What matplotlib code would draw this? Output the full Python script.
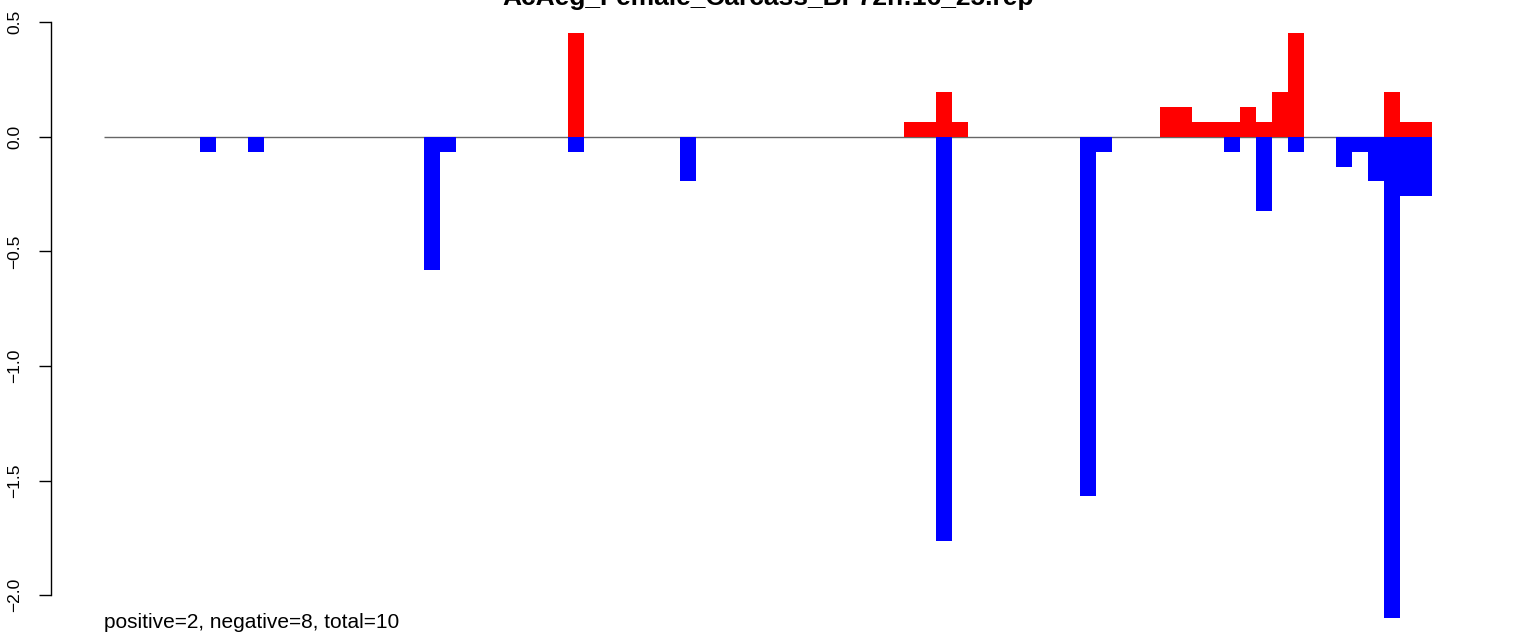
import matplotlib as mpl
mpl.use('Agg')

import matplotlib.pyplot as plt
import numpy as np

plt.rcParams['font.family'] = ['Liberation Sans', 'DejaVu Sans']

title = "AcAeg_Female_Carcass_BF72h:16_25.rep"
footer = "positive=2, negative=8, total=10"
n_bins = 83

# positive (red) bins and their heights
pos_idx = [29, 50, 51, 52, 53, 66, 67, 68, 69, 70, 71, 72, 73, 74, 80, 81, 82]
pos_val = [0.454, 0.065, 0.065, 0.194, 0.065, 0.13, 0.13, 0.065, 0.065, 0.065,
           0.13, 0.065, 0.194, 0.454, 0.194, 0.065, 0.065]

# negative (blue) bins and their heights
neg_idx = [6, 9, 20, 21, 29, 36, 52, 61, 62, 70, 72, 74, 77, 78, 79, 80, 81, 82]
neg_val = [-0.065, -0.065, -0.583, -0.065, -0.065, -0.194, -1.763, -1.566, -0.065,
           -0.065, -0.324, -0.065, -0.13, -0.065, -0.194, -2.100, -0.26, -0.26]

yticks = [0.5, 0.0, -0.5, -1.0, -1.5, -2.0]
ytick_labels = ["0.5", "0.0", "\u22120.5", "\u22121.0", "\u22121.5", "\u22122.0"]

W, H = 1536, 634
fig = plt.figure(figsize=(W / 100, H / 100), dpi=100)

# plot box in pixels: x 104..1432, y 10..625 ; zero at y=136.7, 229.3 px per unit
left_px, right_px, top_px, bot_px = 104, 1432, 10, 625
zero_px, unit_px = 136.7, 229.3
ax = fig.add_axes([left_px / W, (H - bot_px) / H,
                   (right_px - left_px) / W, (bot_px - top_px) / H])
ax.set_xlim(0, n_bins)
ax.set_ylim((zero_px - bot_px) / unit_px, (zero_px - top_px) / unit_px)

ax.plot([0, n_bins], [0, 0], color='#666666', lw=1.0, zorder=1,
        solid_capstyle='butt')
ax.bar(pos_idx, pos_val, width=1, align='edge', color='#ff0000',
       linewidth=0, zorder=2)
ax.bar(neg_idx, neg_val, width=1, align='edge', color='#0000ff',
       linewidth=0, zorder=2)

for s in ['top', 'right', 'bottom']:
    ax.spines[s].set_visible(False)
ax.spines['left'].set_position(('outward', 38.4))
ax.spines['left'].set_bounds(-2.0, 0.5)
ax.spines['left'].set_linewidth(1.0)
ax.set_xticks([])
ax.set_yticks(yticks)
ax.set_yticklabels(ytick_labels, rotation=90, va='center', fontsize=12.5)
ax.tick_params(axis='y', length=8.6, width=1.0, pad=12)

fig.text(0.5, 1 - 4.5 / H, title, ha='center', va='baseline',
         fontsize=19, fontweight='bold')
fig.text(104 / W, 1 - 628.5 / H, footer, ha='left', va='baseline', fontsize=15)

plt.savefig('out.png', dpi=100)
plt.close(fig)
